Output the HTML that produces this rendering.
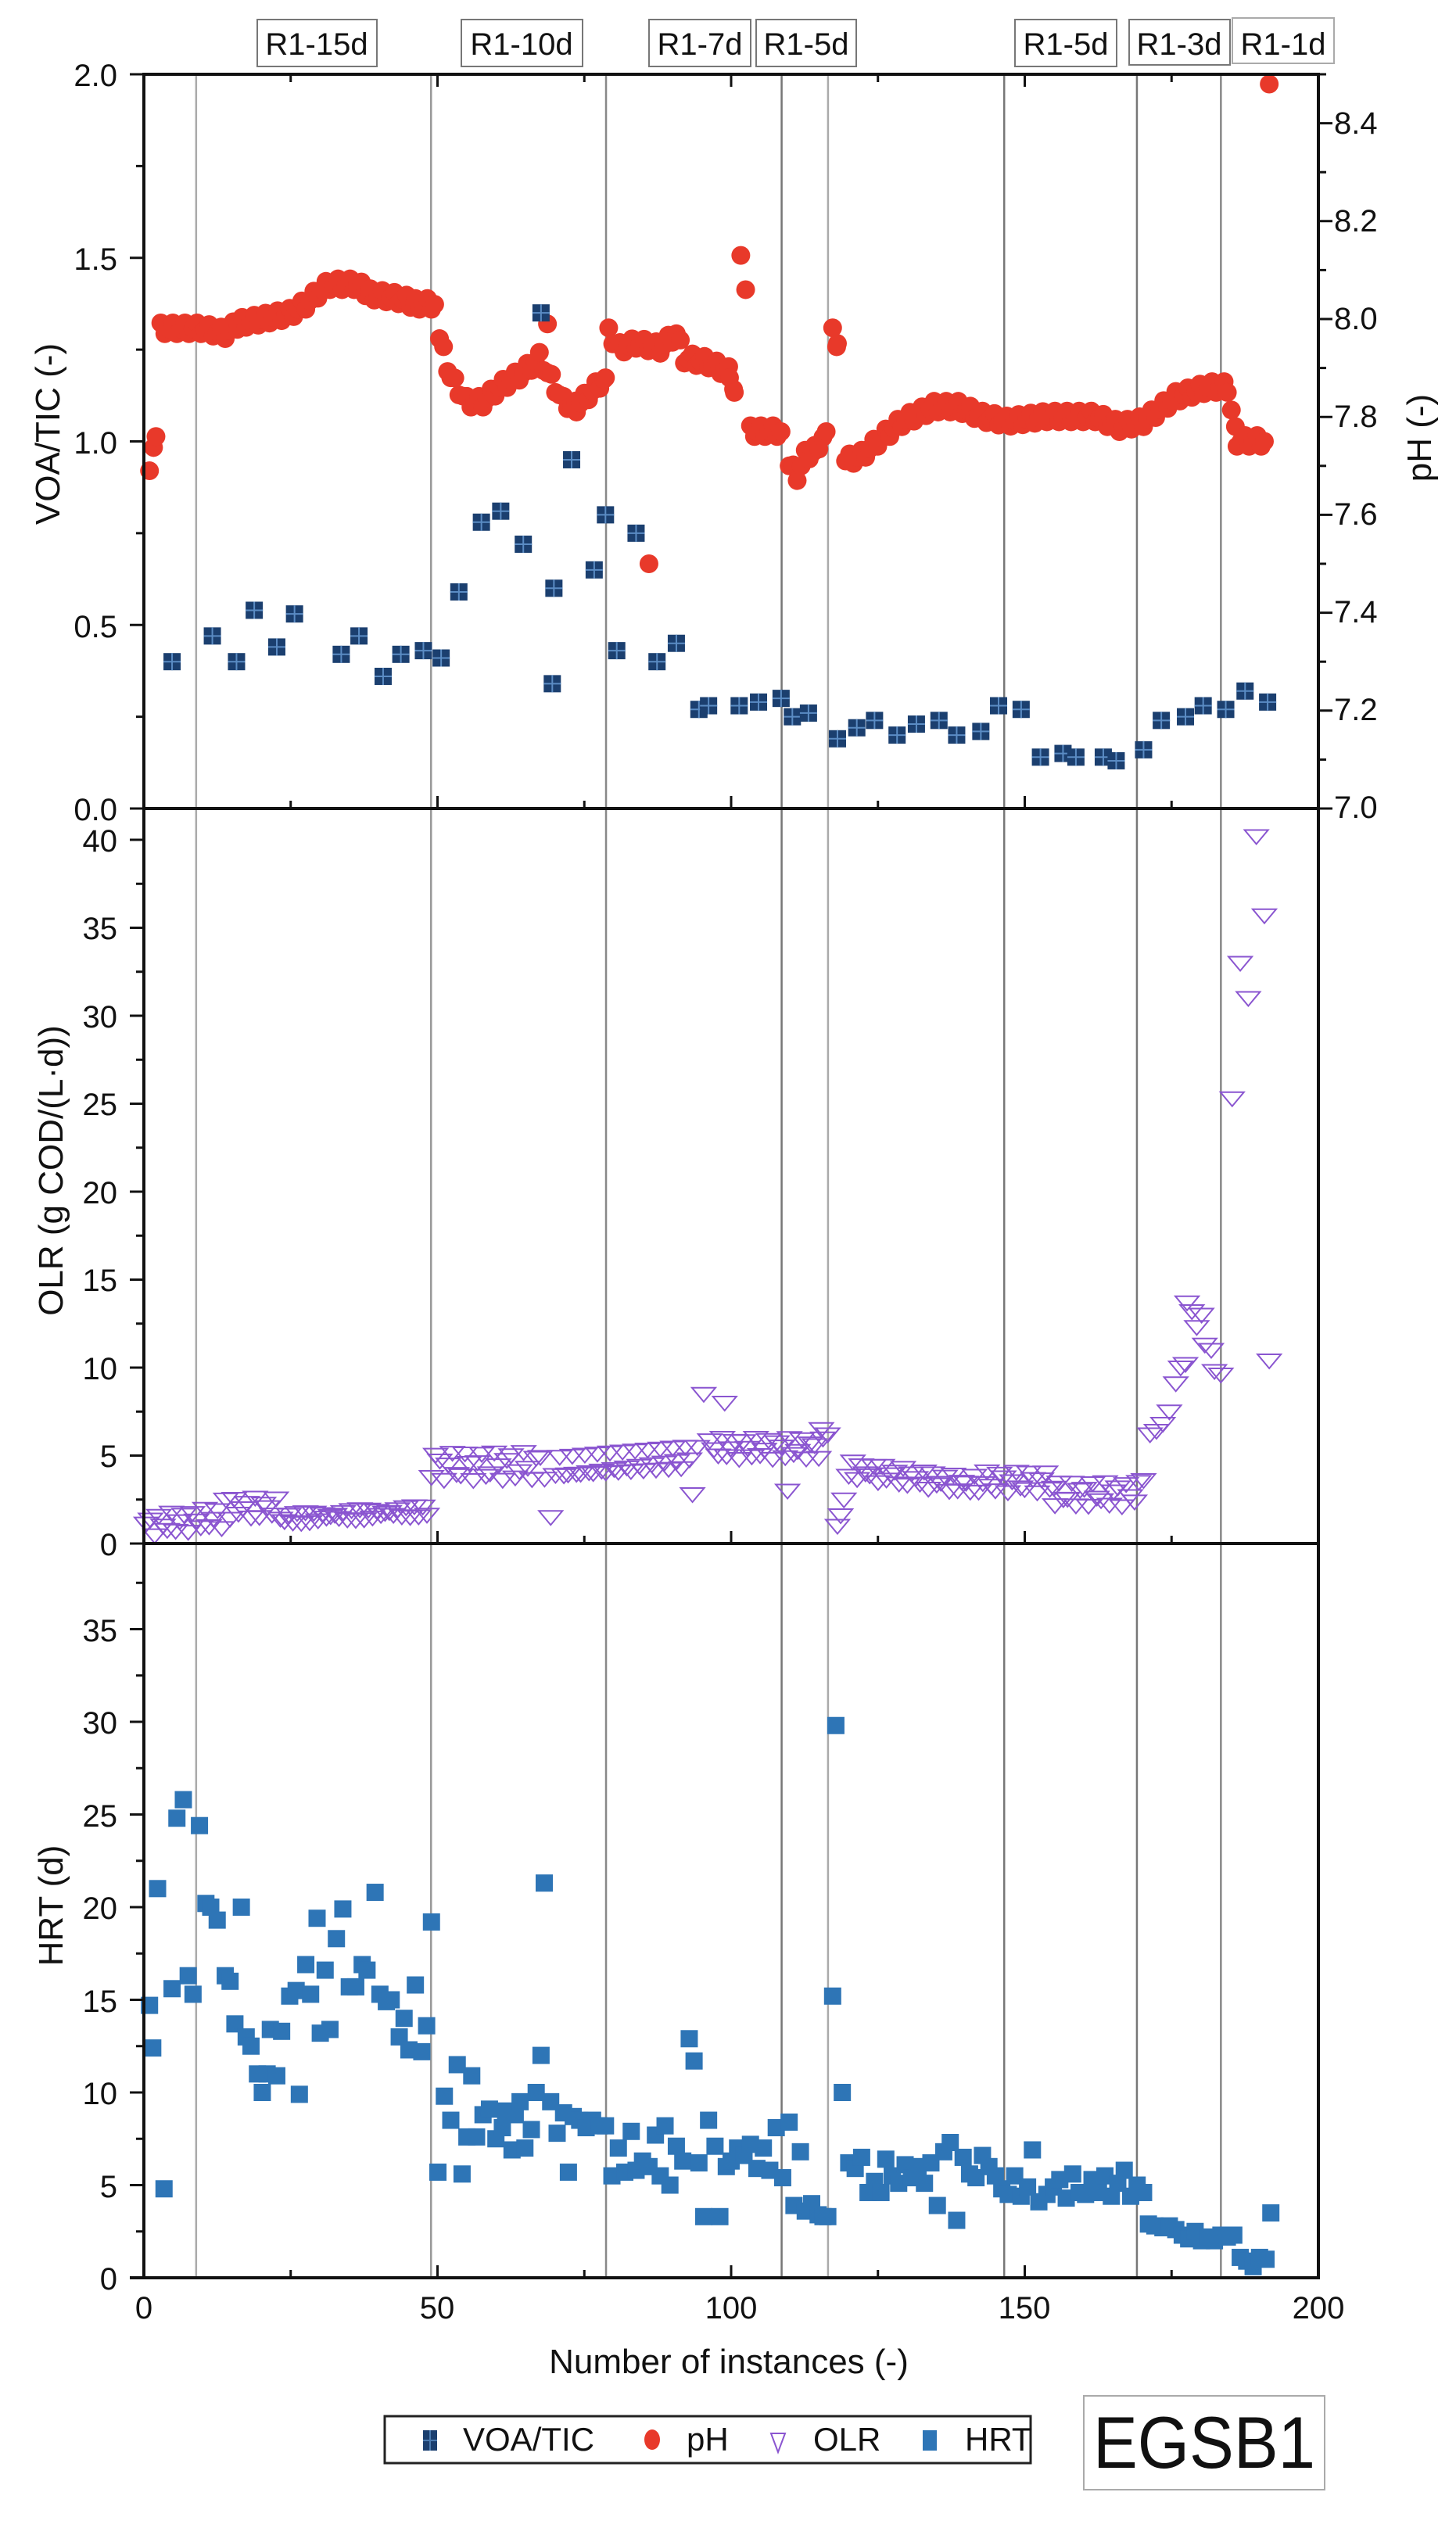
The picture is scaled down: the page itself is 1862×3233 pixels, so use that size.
<!DOCTYPE html>
<html><head><meta charset="utf-8"><style>
html,body{margin:0;padding:0;background:#fff;}
svg{display:block;}
text{font-family:"Liberation Sans",Arial,sans-serif;fill:#111;}
</style></head><body>
<svg id="s" width="1862" height="3233" viewBox="0 0 1862 3233" xmlns="http://www.w3.org/2000/svg">
<rect width="1862" height="3233" fill="#fff"/>
<g id="grid"></g>
<g id="data"></g>
<g id="axes"></g>
<g font-size="40" text-anchor="end">
<text x="150" y="110">2.0</text>
<text x="150" y="345">1.5</text>
<text x="150" y="580">1.0</text>
<text x="150" y="815">0.5</text>
<text x="150" y="1049">0.0</text>
<text x="150" y="1089">40</text>
<text x="150" y="1201">35</text>
<text x="150" y="1314">30</text>
<text x="150" y="1426">25</text>
<text x="150" y="1539">20</text>
<text x="150" y="1651">15</text>
<text x="150" y="1764">10</text>
<text x="150" y="1876">5</text>
<text x="150" y="1989">0</text>
<text x="150" y="2099">35</text>
<text x="150" y="2217">30</text>
<text x="150" y="2336">25</text>
<text x="150" y="2454">20</text>
<text x="150" y="2573">15</text>
<text x="150" y="2691">10</text>
<text x="150" y="2810">5</text>
<text x="150" y="2928">0</text>
</g>
<g font-size="40" text-anchor="start">
<text x="1706" y="171">8.4</text>
<text x="1706" y="296">8.2</text>
<text x="1706" y="421">8.0</text>
<text x="1706" y="546">7.8</text>
<text x="1706" y="671">7.6</text>
<text x="1706" y="796">7.4</text>
<text x="1706" y="921">7.2</text>
<text x="1706" y="1046">7.0</text>
</g>
<g font-size="40" text-anchor="middle">
<text x="184" y="2965">0</text>
<text x="559" y="2965">50</text>
<text x="935" y="2965">100</text>
<text x="1310" y="2965">150</text>
<text x="1686" y="2965">200</text>
<text x="932" y="3035" font-size="44">Number of instances (-)</text>
</g>
<g font-size="44" text-anchor="middle">
<text transform="translate(76,555) rotate(-90)">VOA/TIC (-)</text>
<text transform="translate(1830,560) rotate(-90)">pH (-)</text>
<text transform="translate(80,1497) rotate(-90)">OLR (g COD/(L·d))</text>
<text transform="translate(80,2437) rotate(-90)">HRT (d)</text>
</g>
<g font-size="40" text-anchor="middle">
<rect x="329" y="25" width="153" height="60" fill="#fff" stroke="#777" stroke-width="2"/><text x="405" y="70">R1-15d</text>
<rect x="590" y="25" width="155" height="60" fill="#fff" stroke="#777" stroke-width="2"/><text x="667" y="70">R1-10d</text>
<rect x="830" y="25" width="130" height="60" fill="#fff" stroke="#777" stroke-width="2"/><text x="895" y="70">R1-7d</text>
<rect x="967" y="25" width="128" height="60" fill="#fff" stroke="#777" stroke-width="2"/><text x="1031" y="70">R1-5d</text>
<rect x="1298" y="25" width="130" height="60" fill="#fff" stroke="#777" stroke-width="2"/><text x="1363" y="70">R1-5d</text>
<rect x="1444" y="25" width="129" height="58" fill="#fff" stroke="#777" stroke-width="2"/><text x="1508" y="70">R1-3d</text>
<rect x="1576" y="23" width="130" height="58" fill="#fff" stroke="#aaa" stroke-width="2"/><text x="1641" y="70">R1-1d</text>
</g>
<rect x="492" y="3090" width="826" height="60" fill="#fff" stroke="#222" stroke-width="3"/>
<rect x="541" y="3108" width="18" height="26" fill="#1b3f6f"/>
<line x1="550" y1="3108" x2="550" y2="3134" stroke="#4a7ab0" stroke-width="2"/><line x1="541" y1="3121" x2="559" y2="3121" stroke="#4a7ab0" stroke-width="2"/>
<text x="592" y="3134" font-size="42">VOA/TIC</text>
<ellipse cx="834" cy="3120" rx="10" ry="13" fill="#e8392a"/>
<text x="878" y="3134" font-size="42">pH</text>
<path d="M986 3112 L1004 3112 L995 3136 Z" fill="none" stroke="#8a55d0" stroke-width="2"/>
<text x="1040" y="3134" font-size="42">OLR</text>
<rect x="1180" y="3108" width="18" height="26" fill="#2e75b6"/>
<text x="1234" y="3134" font-size="42">HRT</text>
<rect x="1386" y="3064" width="308" height="120" fill="#fff" stroke="#aaa" stroke-width="2"/>
<text x="1398" y="3156" font-size="94" textLength="284" lengthAdjust="spacingAndGlyphs">EGSB1</text>
</svg>
<script>
var NS="http://www.w3.org/2000/svg";
function el(p,t,a){var e=document.createElementNS(NS,t);for(var k in a)e.setAttribute(k,a[k]);p.appendChild(e);return e;}
var L=184,R=1686,T=95,B1=1034,B2=1974,B3=2913;
function X(u){return L+u*(R-L)/200;}
function XD(xd){return L+(xd-89.5)*(R-L)/729;}
var grid=document.getElementById('grid'),ax=document.getElementById('axes'),dg=document.getElementById('data');
[[8.9,'#aaa'],[48.9,'#999'],[78.7,'#888'],[108.6,'#777'],[116.5,'#aaa'],[146.5,'#777'],[169.1,'#777'],[183.4,'#888']].forEach(function(v){
 el(grid,'line',{x1:X(v[0]),x2:X(v[0]),y1:T,y2:B3,stroke:v[1],'stroke-width':2.5});});
el(ax,'rect',{x:L,y:T,width:R-L,height:B3-T,fill:'none',stroke:'#111','stroke-width':4});
el(ax,'line',{x1:L,x2:R,y1:B1,y2:B1,stroke:'#111','stroke-width':4});
el(ax,'line',{x1:L,x2:R,y1:B2,y2:B2,stroke:'#111','stroke-width':4});
el(ax,'line',{x1:166,x2:L,y1:B3,y2:B3,stroke:'#111','stroke-width':4});
[T,B1,B2,B3].forEach(function(yb,i){for(var u=0;u<=200;u+=25){var big=u%50==0;var len=big?16:10;
 if(i==0)el(ax,'line',{x1:X(u),x2:X(u),y1:T,y2:T+len,stroke:'#111','stroke-width':3});
 else el(ax,'line',{x1:X(u),x2:X(u),y1:yb,y2:yb-len,stroke:'#111','stroke-width':3});}});
function ytick(y,len){el(ax,'line',{x1:L-len,x2:L,y1:y,y2:y,stroke:'#111','stroke-width':3});}
for(var v=0;v<=2.001;v+=0.25){ytick(B1-v*469.5,(Math.round(v*4)%2==0)?18:10);}
for(var v=0;v<=40;v+=2.5){var y=B2-v*22.5;if(y>B1)ytick(y,(v%5==0)?18:10);}
for(var v=0;v<=37.5;v+=2.5){var y=B3-v*23.7;if(y>B2)ytick(y,(v%5==0)?18:10);}
function PH(p){return B1-(p-7)*(B1-T)/1.5;}
for(var p=7;p<=8.5;p+=0.1){var y=PH(p);var maj=Math.round(p*10)%2==0;el(ax,'line',{x1:R,x2:R+(maj?18:10),y1:y,y2:y,stroke:'#111','stroke-width':3});}
var ph=[[93,7.70],[97,7.76],[100,7.98],[125,7.98],[140,7.97],[148,7.99],[165,8.00],[180,8.01],[190,8.03],[200,8.06],[205,8.07],[222,8.07],[230,8.05],[250,8.04],[258,8.03],[270,8.03],[273,7.96],[280,7.88],[290,7.83],[300,7.83],[310,7.86],[325,7.89],[335,7.92],[340,7.89],[350,7.83],[358,7.82],[370,7.86],[376,7.88],[378,7.97],[385,7.94],[395,7.95],[410,7.94],[420,7.97],[425,7.92],[440,7.91],[453,7.89],[456,7.85],[460,8.13],[463,8.06],[466,7.77],[470,7.77],[485,7.77],[490,7.70],[495,7.68],[500,7.72],[506,7.73],[513,7.77],[517,7.97],[520,7.95],[525,7.71],[535,7.72],[545,7.75],[560,7.79],[580,7.82],[595,7.82],[610,7.80],[625,7.79],[650,7.80],[680,7.80],[695,7.78],[710,7.79],[730,7.84],[750,7.86],[762,7.86],[768,7.75],[785,7.75]];
function dot(xd,p){el(dg,'circle',{cx:XD(xd),cy:PH(p),r:12,fill:'#e8392a'});}
var k=0;
for(var i=0;i<ph.length-1;i++){var a=ph[i],b=ph[i+1];var jump=Math.abs(b[1]-a[1])>0.06&&(b[0]-a[0])<6;
 if(jump){dot(a[0],a[1]);continue;}
 for(var xd=a[0];xd<b[0];xd+=2.5){k++;var j=(k%3==0)?0.012:((k%3==1)?-0.01:0);dot(xd,a[1]+(b[1]-a[1])*(xd-a[0])/(b[0]-a[0])+j);}}
dot(785,7.75);dot(788,8.48);dot(403,7.50);dot(340,7.99);
var voa=[[107,0.40],[132,0.47],[147,0.40],[158,0.54],[172,0.44],[183,0.53],[212,0.42],[223,0.47],[238,0.36],[249,0.42],[263,0.43],[274,0.41],[285,0.59],[299,0.78],[311,0.81],[325,0.72],[336,1.35],[343,0.34],[344,0.60],[355,0.95],[369,0.65],[376,0.80],[383,0.43],[395,0.75],[408,0.40],[420,0.45],[434,0.27],[440,0.28],[459,0.28],[471,0.29],[485,0.30],[492,0.25],[502,0.26],[520,0.19],[532,0.22],[543,0.24],[557,0.20],[569,0.23],[583,0.24],[594,0.20],[609,0.21],[620,0.28],[634,0.27],[646,0.14],[660,0.15],[668,0.14],[685,0.14],[693,0.13],[710,0.16],[721,0.24],[736,0.25],[747,0.28],[761,0.27],[773,0.32],[787,0.29]];
voa.forEach(function(d){var x=XD(d[0]),y=B1-d[1]*469.5;el(dg,'rect',{x:x-11,y:y-11,width:22,height:22,fill:'#1b3f6f'});
 el(dg,'line',{x1:x,x2:x,y1:y-11,y2:y+11,stroke:'#5b8cc4','stroke-width':2});el(dg,'line',{x1:x-11,x2:x+11,y1:y,y2:y,stroke:'#5b8cc4','stroke-width':2});});
var olr=[];
function add(a){olr=olr.concat(a);}
for(var xd=91;xd<266;xd+=2.6){var v;if(xd<140)v=1.0+0.6*Math.sin(xd*0.9)+(xd-91)*0.01;else if(xd<175)v=2.0+0.6*Math.sin(xd);else v=1.4+0.3*Math.sin(xd*1.3)+(xd-175)*0.005;olr.push([xd,v]);}
for(var xd=268;xd<340;xd+=2.6){olr.push([xd,4.4+0.8*Math.sin(xd*0.7)]);}
add([[342,1.5]]);
for(var xd=345;xd<430;xd+=2.6){olr.push([xd,4.2+0.7*Math.sin(xd*0.8)+(xd-345)*0.008]);}
add([[430,2.8],[437,8.5],[450,8.0],[489,3.0],[520,1.0],[522,1.6],[524,2.5]]);
for(var xd=433;xd<512;xd+=2.6){if(Math.abs(xd-437)<3)continue;olr.push([xd,5.4+0.6*Math.sin(xd*0.9)]);}
add([[510,6.5],[514,6.2]]);
for(var xd=527;xd<605;xd+=2.6){olr.push([xd,4.2-(xd-527)*0.012+0.5*Math.sin(xd)]);}
for(var xd=605;xd<655;xd+=2.6){olr.push([xd,3.5+0.6*Math.sin(xd*0.7)]);}
for(var xd=655;xd<708;xd+=2.6){olr.push([xd,2.8+0.7*Math.sin(xd*0.9)]);}
add([[710,3.6],[714,6.2],[718,6.4],[722,6.8],[726,7.5],[730,9.1],[733,10.0],[736,10.2],[737,13.7],[740,13.2],[743,12.3],[746,13.0],[748,11.3],[752,11.0],[754,9.8],[758,9.6],[765,25.3],[770,33],[775,31],[780,40.2],[785,35.7],[788,10.4]]);
olr.forEach(function(d){var x=XD(d[0]),y=B2-d[1]*22.5;el(dg,'path',{d:'M'+(x-15)+' '+(y-8)+' L'+(x+15)+' '+(y-8)+' L'+x+' '+(y+10)+' Z',fill:'none',stroke:'#8a55d0','stroke-width':2});});
var hrt=[[93,14.7],[95,12.4],[98,21],[102,4.8],[107,15.6],[110,24.8],[114,25.8],[117,16.3],[120,15.3],[124,24.4],[128,20.2],[131,20],[135,19.3],[140,16.3],[143,16],[146,13.7],[150,20],[153,13],[156,12.5],[160,11],[163,10],[166,11],[168,13.4],[172,10.9],[175,13.3],[180,15.2],[184,15.5],[186,9.9],[190,16.9],[193,15.3],[197,19.4],[199,13.2],[202,16.6],[205,13.4],[209,18.3],[213,19.9],[217,15.7],[221,15.7],[225,16.9],[228,16.6],[233,20.8],[236,15.3],[240,14.9],[243,15],[248,13],[251,14],[254,12.3],[258,15.8],[262,12.2],[265,13.6],[268,19.2],[272,5.7],[276,9.8],[280,8.5],[284,11.5],[287,5.6],[290,7.6],[293,10.9],[296,7.6],[300,8.8],[304,9.1],[308,7.5],[312,8.1],[314,9],[318,6.9],[320,8.8],[323,9.5],[326,7],[330,8],[333,10],[336,12],[338,21.3],[342,9.5],[346,7.8],[350,8.9],[353,5.7],[356,8.7],[360,8.5],[364,8.1],[368,8.5],[372,8.2],[376,8.2],[380,5.5],[384,7],[388,5.7],[392,7.9],[395,5.8],[399,6.3],[403,6],[407,7.7],[410,5.5],[413,8.2],[416,5],[420,7.1],[424,6.3],[428,12.9],[431,11.7],[434,6.2],[437,3.3],[440,8.5],[444,7.1],[447,3.3],[451,6],[454,6.3],[458,7],[462,6.6],[466,7.2],[470,5.9],[474,7],[478,5.8],[482,8.1],[486,5.4],[490,8.4],[493,3.9],[497,6.8],[500,3.6],[504,4],[508,3.4],[511,3.3],[514,3.3],[517,15.2],[519,29.8],[523,10],[527,6.2],[531,5.9],[535,6.5],[539,4.6],[543,5.2],[547,4.6],[550,6.4],[554,5.5],[558,5.1],[562,6.1],[566,5.4],[570,6],[574,5.1],[578,6.2],[582,3.9],[586,6.8],[590,7.3],[594,3.1],[598,6.5],[602,5.6],[606,5.4],[610,6.6],[614,6],[618,5.5],[622,4.8],[626,4.5],[630,5.5],[634,4.4],[638,4.9],[641,6.9],[645,4.1],[650,4.5],[654,4.9],[658,5.3],[662,4.3],[666,5.6],[670,4.6],[674,4.5],[678,5.3],[682,4.6],[686,5.5],[690,4.4],[694,5.1],[698,5.8],[702,4.4],[706,5],[710,4.6],[713,2.9],[717,2.8],[722,2.7],[726,2.8],[730,2.6],[734,2.3],[738,2.1],[742,2.5],[746,2],[750,2.2],[754,2],[758,2.3],[762,2.2],[766,2.3],[770,1.1],[774,0.9],[778,0.6],[782,1.1],[786,1],[789,3.5]];
hrt.forEach(function(d){var x=XD(d[0]),y=B3-d[1]*23.7;el(dg,'rect',{x:x-11,y:y-11,width:22,height:22,fill:'#2e75b6'});});
</script>
</body></html>
